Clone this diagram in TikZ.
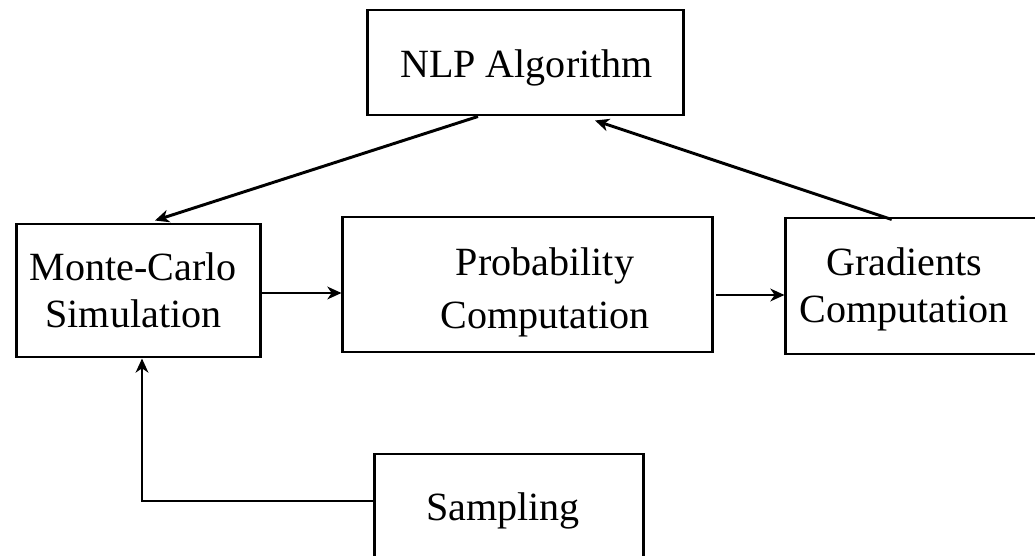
\documentclass[tikz,border=0pt]{standalone}
\usepackage{fontspec}
\setmainfont{Liberation Serif}
\usetikzlibrary{arrows.meta,calc}

\begin{document}
\begin{tikzpicture}[x=0.025cm, y=-0.025cm,
        blk/.style={shape=rectangle, draw, line width=2.1pt, inner sep=0pt},
        lbl/.style={anchor=center, align=center, inner sep=0pt, font=\fontsize{28.5pt}{33.4pt}\selectfont},
        wire/.style={line width=2.1pt, -{Stealth[length=10pt, width=9pt, inset=3pt]}}]
            % Paths, nodes and wires:
            \clip (0,0) rectangle (1035,556);
            \node[blk, minimum width=7.875cm, minimum height=2.625cm] (nlp) at (525.5, 62.5){} node[lbl] (nlptxt) at (526.5, 67.7){NLP Algorithm};
            \node[blk, minimum width=6.075cm, minimum height=3.325cm] (mc) at (138.5, 290.5){} node[lbl] (mctxt) at (133.5, 290){Monte-Carlo\\Simulation};
            \node[blk, minimum width=9.225cm, minimum height=3.375cm] (prob) at (527.5, 284.5){} node[lbl] (probtxt) at (545, 292.3){Probability\\[4.3pt]Computation};
            \node[blk, minimum width=6.35cm, minimum height=3.4cm] (grad) at (913, 286){} node[lbl] (gradtxt) at (904, 289.3){Gradients\\Computation};
            \node[blk, minimum width=6.7cm, minimum height=2.9cm] (samp) at (509, 512){} node[lbl] (samptxt) at (503, 510.7){Sampling};
            \draw[wire] ($(nlp.south)+(-47.5,0)$) -- ($(mc.north)+(16.5,-2)$);
            \draw[wire] ($(grad.north)+(-21.3,3)$) -- ($(nlp.south)+(69.5,4)$);
            \draw[wire] ($(mc.east)+(0,2.5)$) -- ($(mc.east -| prob.west)+(0,2.5)$);
            \draw[wire] ($(prob.east)+(2,10.5)$) -- ($(prob.east -| grad.west)+(0,10.5)$);
            \draw[wire] ($(samp.west)+(0,-11)$) -| ($(mc.south)+(3.5,0)$);
        \end{tikzpicture}
\end{document}
